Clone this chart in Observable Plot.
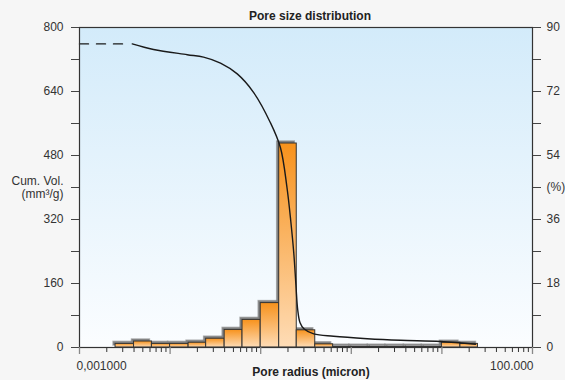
<!DOCTYPE html>
<html><head><meta charset="utf-8">
<script src="https://cdn.jsdelivr.net/npm/d3@7"></script>
<script src="https://cdn.jsdelivr.net/npm/@observablehq/plot@0.6"></script>
<style>
html,body{margin:0;padding:0;background:#f6f6f6;}
</style></head><body><div id="chart"></div>
<script>
// Histogram bins (pore radius, micron) and incremental volume (mm³/g)
const binLower  = [0.0025,0.004,0.0063,0.01,0.016,0.025,0.04,0.063,0.1,0.16,0.25,0.4,0.63,1,1.6,2.5,4,6.3,10,16];
const binUpper  = [0.004,0.0063,0.01,0.016,0.025,0.04,0.063,0.1,0.16,0.25,0.4,0.63,1,1.6,2.5,4,6.3,10,16,25];
const binVolume = [9,15,9,9,12,22,44,69,111,510,43,8,2,2,2,2,2,2,12,9];

// Cumulative volume curve
const curveRadius = [0.00382,0.00656,0.01545,0.0234,0.036,0.0551,0.0833,0.128,0.165,0.195,0.215,0.232,0.245,0.256,0.272,0.30,0.385,0.637,1.50,3.49,9.66,23.5];
const curveVolume = [759,745,732,726,711,684,638,562,500,400,315,235,155,95,62,47,34,28,22,18,15,8];

// Dashed extension
const dashRadius = [0.001,0.0034];
const dashVolume = [759,759];

// Axes
const leftTicks = [0,80,160,240,320,400,480,560,640,720,800];
const leftLabels = ["0","","160","","320","","480","","640","","800"];
const rightLabels = ["0","","18","","36","","54","","72","","90"];
const xMajorTicks = [0.001,0.01,0.1,1,10,100];
const xMinorTicks = [];
for (const d of [0.001,0.01,0.1,1,10]) for (const m of [2,3,4,5,6,7,8,9]) xMinorTicks.push(+(d*m).toPrecision(3));
const xLabelLeft = "0,001000";
const xLabelRight = "100.000";
const titleText = "Pore size distribution";
const xTitle = "Pore radius (micron)";
const yTitleLeft = "Cum. Vol.\n(mm³/g)";
const yTitleRight = "(%)";

const bars = binLower.map((lo, i) => ({lo, hi: binUpper[i], v: binVolume[i]}));
const curve = curveRadius.map((r, i) => ({r, v: curveVolume[i]}));
const dash = dashRadius.map((r, i) => ({r, v: dashVolume[i]}));

const font = "'Liberation Sans', Arial, sans-serif";

const svg = Plot.plot({
  width: 565, height: 380,
  marginLeft: 79, marginRight: 33, marginTop: 27, marginBottom: 33,
  style: {fontFamily: font, fontSize: "12px", background: "#f6f6f6", color: "#333"},
  x: {type: "log", domain: [0.001, 100]},
  y: {domain: [0, 800]},
  marks: [
    Plot.frame({fill: "url(#bgGrad)", stroke: null}),
    Plot.rectY(bars, {x1: "lo", x2: "hi", y: "v", dx: -2, dy: -2, fill: "#707070", fillOpacity: 0.85, stroke: "#808080", strokeWidth: 1.5, strokeOpacity: 0.6}),
    Plot.rectY(bars, {x1: "lo", x2: "hi", y: "v", fill: "url(#barGrad)", stroke: "#333", strokeWidth: 1}),
    Plot.line(curve, {x: "r", y: "v", curve: "catmull-rom", stroke: "#1a1a1a", strokeWidth: 1.4}),
    Plot.line(dash, {x: "r", y: "v", stroke: "#1a1a1a", strokeWidth: 1.4, strokeDasharray: "9,8"}),
    Plot.frame({stroke: "#333", strokeWidth: 1.2}),
    Plot.axisY({ticks: leftTicks, tickSize: 8, tickPadding: 8, tickFormat: (d) => leftLabels[leftTicks.indexOf(d)], label: null, stroke: "#444"}),
    Plot.axisY({anchor: "right", ticks: leftTicks, tickSize: 8, tickPadding: 6, tickFormat: (d) => rightLabels[leftTicks.indexOf(d)], label: null, stroke: "#444"}),
    Plot.axisX({ticks: xMajorTicks, tickSize: 7, tickFormat: () => "", label: null, stroke: "#888", strokeWidth: 1.3}),
    Plot.axisX({ticks: xMinorTicks, tickSize: 5, tickFormat: () => "", label: null, stroke: "#333"}),
    Plot.axisX({ticks: [xMajorTicks[0]], tickSize: 0, tickPadding: 14, textAnchor: "start", dx: -3, tickFormat: () => xLabelLeft, label: null}),
    Plot.axisX({ticks: [xMajorTicks[xMajorTicks.length - 1]], tickSize: 0, tickPadding: 14, textAnchor: "end", dx: 1, tickFormat: () => xLabelRight, label: null}),
    Plot.text([400], {y: d => d, frameAnchor: "left", dx: -16, textAnchor: "end", text: () => yTitleLeft, lineHeight: 1.1, fill: "#333"}),
    Plot.text([400], {y: d => d, frameAnchor: "right", dx: 14, textAnchor: "start", text: () => yTitleRight, fill: "#333"}),
    Plot.text([titleText], {frameAnchor: "top", lineAnchor: "middle", dy: -11, dx: 4, fontWeight: "bold", fill: "#222"}),
    Plot.text([xTitle], {frameAnchor: "bottom", lineAnchor: "middle", dy: 25, dx: 5, fontWeight: "bold", fill: "#222"})
  ]
});

const defs = d3.select(svg).insert("defs", ":first-child");
const bg = defs.append("linearGradient").attr("id", "bgGrad").attr("x1", 0).attr("y1", 0).attr("x2", 0).attr("y2", 1);
bg.append("stop").attr("offset", "0%").attr("stop-color", "#d3ebfa");
bg.append("stop").attr("offset", "100%").attr("stop-color", "#fbfdff");
const bar = defs.append("linearGradient").attr("id", "barGrad").attr("x1", 0).attr("y1", 0).attr("x2", 0).attr("y2", 1);
bar.append("stop").attr("offset", "0%").attr("stop-color", "#f7921c");
bar.append("stop").attr("offset", "100%").attr("stop-color", "#fedcb6");

document.getElementById("chart").appendChild(svg);
</script></body></html>
